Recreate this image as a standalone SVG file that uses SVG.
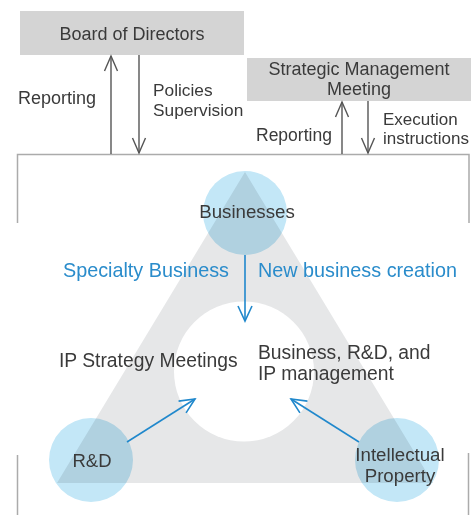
<svg xmlns="http://www.w3.org/2000/svg" width="471" height="515" viewBox="0 0 471 515">
<defs>
<style>
.t{font-family:"Liberation Sans",Arial,sans-serif;fill:#3a3a3a;font-size:18px}
.m{font-size:19.3px}
.b{font-family:"Liberation Sans",Arial,sans-serif;fill:#2a8ccb;font-size:19.8px}
.box{fill:#d4d4d4}
.frame{stroke:#ababab;stroke-width:1.5;fill:none}
.ga{stroke:#555;stroke-width:1.4;fill:none}
.ba{stroke:#2088cc;stroke-width:1.6;fill:none}
.bc{fill:#c3e7f7;mix-blend-mode:multiply}
</style>
<marker id="gh" viewBox="0 0 20 20" refX="16" refY="10" markerWidth="20" markerHeight="20" markerUnits="userSpaceOnUse" orient="auto">
<path d="M1,3.5 L16,10 L1,16.5" fill="none" stroke="#555" stroke-width="1.4"/>
</marker>
<marker id="bh" viewBox="0 0 20 20" refX="16" refY="10" markerWidth="20" markerHeight="20" markerUnits="userSpaceOnUse" orient="auto">
<path d="M1,3 L16,10 L1,17" fill="none" stroke="#2088cc" stroke-width="1.6"/>
</marker>
</defs>
<rect width="471" height="515" fill="#fff"/>

<g id="frame">
<path class="frame" d="M17.5,223 V154.5 H469 V223"/>
<path class="frame" d="M17.5,455 V515"/>
<path class="frame" d="M468.5,453 V515"/>
</g>

<g id="triangle">
<polygon points="245,172 57,483 433,483" fill="#e6e7e8"/>
<circle cx="244" cy="371.5" r="70" fill="#fff"/>
</g>

<g id="board">
<rect class="box" x="20" y="11" width="224" height="44"/>
<text class="t" x="132" y="40" text-anchor="middle">Board of Directors</text>
</g>

<g id="smm">
<rect class="box" x="247" y="58" width="224" height="43"/>
<text class="t" x="359" y="75" text-anchor="middle">Strategic Management</text>
<text class="t" x="359" y="94.5" text-anchor="middle">Meeting</text>
</g>

<g id="businesses">
<circle class="bc" cx="245" cy="213" r="42"/>
<text class="t" x="247" y="218" text-anchor="middle" style="font-size:18.7px">Businesses</text>
</g>

<g id="rd">
<circle class="bc" cx="91" cy="460" r="42"/>
<text class="t" x="92" y="467" text-anchor="middle" style="font-size:18.5px">R&amp;D</text>
</g>

<g id="ip">
<circle class="bc" cx="397" cy="460" r="42"/>
<text class="t" x="400" y="461" text-anchor="middle" style="font-size:18.7px">Intellectual</text>
<text class="t" x="400" y="482" text-anchor="middle" style="font-size:18.7px">Property</text>
</g>

<g id="center">
<text class="t m" x="59" y="367">IP Strategy Meetings</text>
<text class="t m" x="258" y="359">Business, R&amp;D, and</text>
<text class="t m" x="258" y="380">IP management</text>
</g>

<g id="connectors">
<line class="ga" x1="111" y1="154" x2="111" y2="56" marker-end="url(#gh)"/>
<line class="ga" x1="139" y1="55" x2="139" y2="153" marker-end="url(#gh)"/>
<line class="ga" x1="342" y1="154" x2="342" y2="102" marker-end="url(#gh)"/>
<line class="ga" x1="368" y1="101" x2="368" y2="153" marker-end="url(#gh)"/>
<line class="ba" x1="245" y1="255" x2="245" y2="321" marker-end="url(#bh)"/>
<line class="ba" x1="127" y1="442" x2="195" y2="399" marker-end="url(#bh)"/>
<line class="ba" x1="359" y1="442" x2="291" y2="399" marker-end="url(#bh)"/>
</g>

<g id="labels">
<text class="t" x="18" y="104">Reporting</text>
<text class="t" x="153" y="96" style="font-size:17.3px">Policies</text>
<text class="t" x="153" y="116" style="font-size:17.3px">Supervision</text>
<text class="t" x="256" y="141" style="font-size:17.5px">Reporting</text>
<text class="t" x="383" y="125" style="font-size:17px">Execution</text>
<text class="t" x="383" y="144" style="font-size:17px">instructions</text>
<text class="b" x="229" y="277" text-anchor="end">Specialty Business</text>
<text class="b" x="258" y="277">New business creation</text>
</g>
</svg>
